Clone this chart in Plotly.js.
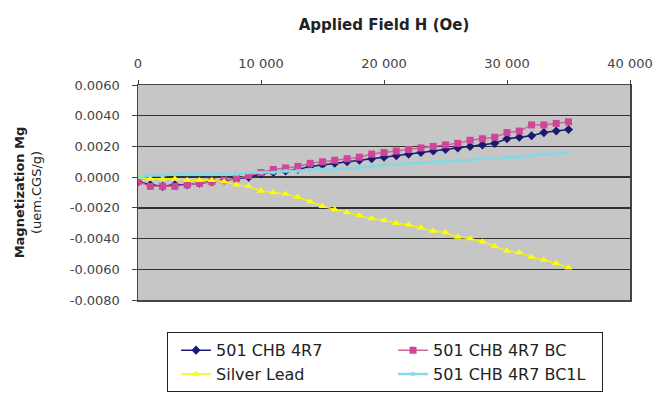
<!DOCTYPE html>
<html>
<head>
<meta charset="utf-8">
<script src="https://cdn.plot.ly/plotly-3.0.1.min.js"></script>
<style>html,body{margin:0;padding:0;background:#fff;}#chart{width:659px;height:394px;}</style>
</head>
<body>
<div id="chart"></div>
<script>
var fieldH = [0,1000,2000,3000,4000,5000,6000,7000,8000,9000,10000,11000,12000,13000,14000,15000,16000,17000,18000,19000,20000,21000,22000,23000,24000,25000,26000,27000,28000,29000,30000,31000,32000,33000,34000,35000];

var chb4r7 = [-0.0003,-0.0005,-0.0006,-0.0005,-0.0005,-0.0004,-0.0003,-0.0002,-0.0001,0.0000,0.0002,0.0003,0.0004,0.0005,0.0007,0.0008,0.0009,0.0010,0.0011,0.0012,0.0013,0.0014,0.0015,0.0016,0.0017,0.0018,0.0019,0.0020,0.0021,0.0022,0.0025,0.0026,0.0027,0.0029,0.0030,0.0031];

var chb4r7BC = [-0.0003,-0.0006,-0.0006,-0.0006,-0.0005,-0.0004,-0.0003,-0.0002,-0.0001,0.0001,0.0003,0.0005,0.0006,0.0007,0.0009,0.0010,0.0011,0.0012,0.0013,0.0015,0.0016,0.0017,0.0018,0.0019,0.0020,0.0021,0.0022,0.0024,0.0025,0.0026,0.0029,0.0030,0.0034,0.0034,0.0035,0.0036];

var silverLead = [0.0000,-0.0001,-0.0001,-0.0001,-0.0002,-0.0002,-0.0002,-0.0003,-0.0005,-0.0006,-0.0009,-0.0010,-0.0011,-0.0013,-0.0016,-0.0019,-0.0021,-0.0023,-0.0025,-0.0027,-0.0028,-0.0030,-0.0031,-0.0033,-0.0035,-0.0036,-0.0039,-0.0040,-0.0042,-0.0045,-0.0048,-0.0049,-0.0052,-0.0054,-0.0056,-0.0059];

var chb4r7BC1L = [0.0000,0.0001,0.0001,0.0002,0.0002,0.0002,0.0002,0.0002,0.0002,0.0003,0.0003,0.0003,0.0004,0.0004,0.0005,0.0005,0.0005,0.0006,0.0006,0.0007,0.0008,0.0008,0.0009,0.0009,0.0010,0.0010,0.0011,0.0011,0.0012,0.0012,0.0013,0.0013,0.0014,0.0015,0.0015,0.0016];

var seriesNames = ['501 CHB 4R7','501 CHB 4R7 BC','Silver Lead','501 CHB 4R7 BC1L'];
var xTickVals = [0,10000,20000,30000,40000];
var xTickText = ['0','10 000','20 000','30 000','40 000'];
var yTickVals = [-0.008,-0.006,-0.004,-0.002,0,0.002,0.004,0.006];
var yTickText = ['-0.0080','-0.0060','-0.0040','-0.0020','0.0000','0.0020','0.0040','0.0060'];

var traces = [
  {x: fieldH, y: chb4r7, name: seriesNames[0], mode: 'lines+markers',
   line: {color: '#1a1a80', width: 1.5}, marker: {symbol: 'diamond', size: 7, color: '#1a1a70'}},
  {x: fieldH, y: chb4r7BC, name: seriesNames[1], mode: 'lines+markers',
   line: {color: '#cc6699', width: 1.5}, marker: {symbol: 'square', size: 7, color: '#d0449a'}},
  {x: fieldH, y: silverLead, name: seriesNames[2], mode: 'lines+markers',
   line: {color: '#f4f400', width: 1.5}, marker: {symbol: 'triangle-up', size: 7, color: '#ffff00'}},
  {x: fieldH, y: chb4r7BC1L, name: seriesNames[3], mode: 'lines+markers',
   line: {color: '#86d8e2', width: 2.5}, marker: {symbol: 'x', size: 4, color: '#86d8e2'}}
];

var tickFont = {family: 'DejaVu Sans, Arial, sans-serif', size: 13, color: '#444'};

var layout = {
  width: 659, height: 394,
  margin: {l: 138, r: 29, t: 85, b: 94, autoexpand: false},
  paper_bgcolor: '#ffffff',
  plot_bgcolor: '#c6c6c6',
  font: {family: 'DejaVu Sans, Arial, sans-serif', color: '#333', size: 13},
  showlegend: true,
  xaxis: {
    side: 'top', range: [0, 40000], tickvals: xTickVals, ticktext: xTickText,
    showgrid: false, zeroline: false, showline: true, mirror: true,
    linecolor: '#444', linewidth: 1.5, ticks: 'outside', ticklen: 4, tickcolor: '#444',
    ticklabelstandoff: 6,
    tickfont: tickFont,
    title: {text: '<b>Applied Field H (Oe)</b>', font: {family: 'DejaVu Sans, Arial, sans-serif', size: 15, color: '#222'}, standoff: 22}
  },
  yaxis: {
    range: [-0.008, 0.006], tickvals: yTickVals, ticktext: yTickText,
    showgrid: true, gridcolor: '#333', gridwidth: 1.5, zeroline: false,
    showline: true, mirror: true, linecolor: '#444', linewidth: 1.5,
    ticks: 'outside', ticklen: 5, tickcolor: '#444',
    ticklabelstandoff: 9,
    tickfont: tickFont,
    title: {text: '<b>Magnetization Mg</b><br>(uem.CGS/g)', font: {family: 'DejaVu Sans, Arial, sans-serif', size: 13, color: '#222'}, standoff: 25}
  },
  legend: {
    orientation: 'h', x: 0.059, xanchor: 'left', y: -0.15, yanchor: 'top',
    bgcolor: '#ffffff', bordercolor: '#222', borderwidth: 1,
    font: {family: 'DejaVu Sans, Arial, sans-serif', size: 16, color: '#222'},
    entrywidth: 164, indentation: 8, traceorder: 'normal'
  }
};

Plotly.newPlot('chart', traces, layout, {displayModeBar: false, staticPlot: true});
</script>
</body>
</html>
